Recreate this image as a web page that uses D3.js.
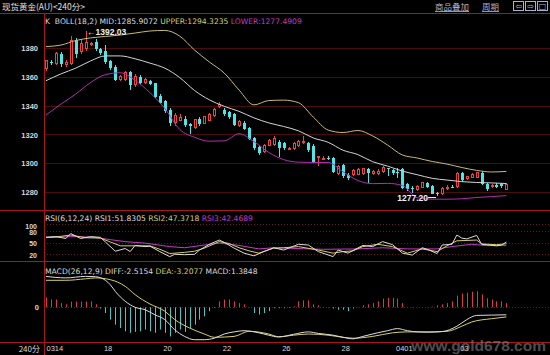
<!DOCTYPE html>
<html>
<head>
<meta charset="utf-8">
<script src="https://cdn.jsdelivr.net/npm/d3@7"></script>
<style>
  body { margin: 0; background: #000; }
  svg { display: block; font-family: "Liberation Sans", Arial, sans-serif; }
</style>
</head>
<body>
<div id="chart"></div>
<script>
// 240 minute gold bars, 0314 .. 0403
const opens = [1366,1370.5,1369,1376,1368.5,1369,1385.5,1377.5,1380,1382.5,
  1384.4,1379,1378,1371,1367,1358,1358.3,1363,1354.5,1360,
  1356,1357,1355.5,1347,1343.4,1337,1328,1330,1331,1327,
  1325,1330.5,1327.7,1329.5,1333,1339.5,1337,1335.8,1334,1326.5,
  1328,1324.2,1317.3,1311.5,1308,1312.6,1313,1315,1313.8,1310,
  1310.3,1312,1315,1314,1312,1304,1303,1303.6,1303.4,1293,
  1298.8,1292,1292,1292.5,1293,1296,1293,1293,1294,1296.5,
  1295.5,1294,1295.8,1285.6,1283,1282,1283.3,1286.5,1284.2,1279.2,
  1279,1282.3,1283.5,1283.7,1293.4,1289.5,1290,1290,1293.4,1285.6,
  1283.5,1285,1285.5,1282];
const highs = [1372,1372,1377,1377,1372,1388,1387,1386,1392.03,1384.5,
  1386,1380,1382,1372,1368,1361,1364,1364,1362,1361,
  1359,1358,1356,1348,1344,1338,1335,1334,1333,1328,
  1331,1332,1333,1335,1338,1342.7,1338,1336.5,1335,1330,
  1329,1325,1318,1312,1313.5,1317,1319,1316,1315,1311,
  1315,1316,1319,1315,1313,1305,1305,1305,1304,1299,
  1299.5,1293,1296,1296.5,1297,1297,1295,1296,1298,1297,
  1296,1296.5,1296.5,1286,1284,1285,1287,1287,1285,1280,
  1283.5,1285,1285,1294,1294,1291,1293,1294,1294.5,1286,
  1285.5,1286,1286.5,1286];
const lows = [1364,1368,1368,1367,1367,1368,1373,1376,1378,1381.5,
  1378,1375,1369,1365,1357,1357,1357,1351,1353,1355,
  1355,1354,1345,1341,1335,1326,1326,1329,1325,1320,
  1324,1326,1327,1329,1332,1338,1333,1331,1325.5,1325,
  1323,1316,1309,1306,1307,1312,1312,1304.5,1309,1309.5,
  1309.5,1311.5,1313,1308,1300,1298,1302,1302,1293,1292,
  1290,1288.5,1291,1292,1292,1286,1292,1292,1293,1291,
  1292,1290,1282,1281,1279,1281,1283,1283,1278.5,1277.2,
  1278,1281.5,1282.5,1283,1287,1288.5,1289.5,1289.5,1285,1281,
  1282.5,1283,1283,1281.5];
const closes = [1371,1370,1376,1369,1370,1385.5,1376,1383,1384,1383,
  1379,1376.7,1370.5,1366,1358,1360,1363,1354.5,1360.5,1356,
  1358,1355,1346,1342,1336,1328,1333,1332,1326.5,1326,
  1330.5,1327,1332.3,1334,1337,1340.5,1334,1332.3,1326.5,1329,
  1323.5,1316.6,1310.3,1307,1312.6,1316,1317,1310.3,1310.3,1310.5,
  1313.8,1315,1315.3,1309,1301,1304.5,1303.4,1303.4,1294,1298,
  1291,1289.5,1295,1295.7,1296.3,1293,1294,1294.5,1297,1296.2,
  1293,1293.8,1283,1282,1282.7,1283.5,1286.5,1283.5,1278.8,1278.6,
  1282.6,1282.8,1283.3,1293,1288.3,1290.6,1292,1293.4,1285.6,1282,
  1284.3,1283.5,1284,1285.5];

// BOLL(18,2), read every 3 bars
const bollBars = [0,3,6,9,12,15,18,21,24,27,30,33,36,39,42,45,48,51,54,57,60,63,66,69,72,75,78,81,84,87,90,93];
const bollUpper = [1381,1382,1385.2,1387,1388,1389,1390.4,1391.8,1392.2,1388.3,1378.6,1370.3,1362.6,1350.8,1340.5,1343.5,1343.8,1342,1332,1323,1321.3,1322.7,1318.9,1312.6,1305.7,1303.6,1301.2,1299.4,1297,1295,1293.9,1294.3];
const bollMid = [1357.3,1362,1366,1371,1374.5,1374.5,1372.5,1369.5,1366,1359.5,1350.5,1344,1339.5,1336,1331.5,1328,1325.5,1322.5,1317.5,1314.5,1309,1306,1301,1298,1294.5,1292,1289.5,1288.3,1287.2,1286.6,1286.3,1285.9];
const bollLower = [1333.5,1341,1348,1356,1361.5,1362.8,1357.5,1349,1338,1323.5,1318,1315.3,1315.5,1320.5,1315,1307.5,1302.5,1300.7,1300.5,1300.5,1294,1288,1285.8,1286,1284.5,1276,1275,1275,1275.3,1276.2,1276.8,1277.5];

// RSI(6,12,24) as [bar, value]
const rsi1 = [[0,64],[2,66],[4,61],[5,74],[7,61],[9,66],[11,64],[12,52],[14,28],[16,35],[17,27],[18,43],[20,40],[21,41],[23,27],[25,14],[26,20],[28,19],[30,20],[31,31],[33,46],[35,57],[36,51],[38,36],[40,23],[42,16],[44,27],[46,37],[48,31],[51,46],[53,44],[55,27],[58,14],[59,31],[61,23],[64,43],[66,40],[68,53],[70,45],[72,23],[74,18],[76,37],[77,33],[79,22],[80,44],[82,46],[83,70],[84,62],[85,60],[87,69],[88,46],[91,42],[92,44],[93,51.8]];
const rsi2 = [[0,64],[2,65],[5,70],[8,63],[11,62],[13,52],[15,42],[18,42],[21,42],[23,33],[25,22],[28,25],[30,28],[32,36],[35,53],[37,48],[39,37],[41,29],[43,23],[46,36],[48,37],[51,40],[55,31],[58,23],[60,27],[62,29],[64,40],[67,46],[70,40],[73,23],[76,34],[79,27],[81,42],[83,55],[87,57],[88,47],[91,45],[93,47.4]];
const rsi3 = [[0,64],[6,66],[10,64],[13,58],[16,53],[20,49],[25,40],[28,37],[32,44],[35,49],[39,43],[43,34],[46,37],[52,34.5],[56,33],[63,34],[68,37],[73,34],[79,34],[82,40],[86,46],[89,42.6],[93,42.5]];

// MACD(26,12,9)
const diffLine = [[0,10.3],[4,9.8],[8,10.3],[10,10.2],[12,9.0],[13,7.5],[14,5.3],[16,2],[18,0],[20,-0.8],[22,-2.5],[24,-4.1],[26,-7.5],[28,-9.7],[30,-10.8],[32,-10.8],[34,-10.3],[36,-8.9],[38,-8.2],[40,-7.8],[43,-8.5],[45,-9.3],[47,-9.9],[50,-9.0],[53,-8.2],[55,-8.7],[58,-9.3],[60,-10],[62,-10.5],[64,-9.7],[67,-8.5],[69,-7.8],[71,-7.1],[73,-7.8],[75,-8.2],[77,-8.3],[80,-8.1],[83,-6.3],[85,-4.1],[87,-2.7],[90,-2.6],[93,-2.5]];
const deaLine = [[0,9.0],[4,9.0],[8,9.5],[10,9.8],[13,9.2],[16,7],[18,4.2],[21,1.1],[24,-1.3],[26,-4.1],[29,-6.9],[32,-8.9],[34,-10],[38,-9.7],[41,-8.0],[45,-8.9],[47,-9.8],[50,-9.3],[53,-8.9],[57,-9.3],[60,-10],[62,-10.3],[66,-9.7],[70,-8.5],[73,-8.2],[77,-8.2],[81,-8],[84,-6.3],[86,-4.9],[90,-3.8],[93,-3.2]];
const macdHist = [3.3,2.6,2.6,1.4,1.0,1.9,1.9,1.9,1.9,2.0,
  1.0,-0.4,-1.9,-4.1,-5.8,-6.9,-8.0,-8.5,-8.2,-8.0,
  -7.4,-8.0,-8.5,-7.4,-8.5,-9.7,-8.5,-7.4,-8.2,-6.9,
  -5.8,-4.1,-3.0,-1.3,-0.2,2.0,2.6,2.6,2.0,1.4,
  1.0,-0.1,-1.9,-2.4,-1.9,-1.3,-0.3,-0.3,-0.3,-0.2,
  0.3,2.0,2.3,2.3,1.0,0.7,0.1,-0.1,-0.4,-0.8,
  -0.8,-1.3,-0.4,0.1,0.7,1.0,1.4,2.0,2.9,3.1,
  3.1,2.9,1.4,0.1,0.1,0.05,0.1,0.1,0.2,0.7,
  1.0,1.4,2.0,3.9,4.6,4.9,5.2,5.4,4.3,3.0,
  2.6,2.0,2.0,1.38];

const priceTicks = [1380,1360,1340,1320,1300,1280];
const rsiTicks = [100,80,50,20];
const xLabels = ["0314","18","20","22","26","28","0401","03"];
const xLabelBars = [0,12,24,36,48,60,71,84];

const w = 550, h = 355;
const red = "#a81818", grid = "#4a0c0c";
const upCol = "#ec4444", downCol = "#4ee6e6";
const white = "#dcdcdc", yellow = "#d8d064", magenta = "#c43cc4";

const svg = d3.select("#chart").append("svg")
  .attr("width", w).attr("height", h);
svg.append("rect").attr("width", w).attr("height", h).attr("fill", "#000");

// scales
const x = d3.scaleLinear().domain([0, 93]).range([46, 506.4]);
const cx = i => Math.round(x(i));
const yK = d3.scaleLinear().domain([1280, 1380]).range([192, 48]);
const yR = d3.scaleLinear().domain([0, 100]).range([262, 223.5]);
const yM = d3.scaleLinear().domain([-10, 10]).range([337.3, 277.3]);

// grid lines
svg.append("g").selectAll("line").data(priceTicks).enter().append("line")
  .attr("x1", 44).attr("x2", w)
  .attr("y1", d => Math.round(yK(d)) + 0.5).attr("y2", d => Math.round(yK(d)) + 0.5)
  .attr("stroke", grid);
svg.append("g").selectAll("line").data(rsiTicks).enter().append("line")
  .attr("x1", 44).attr("x2", w)
  .attr("y1", d => Math.round(yR(d)) + 0.5).attr("y2", d => Math.round(yR(d)) + 0.5)
  .attr("stroke", "#6a1818").attr("stroke-dasharray", "1,2");
svg.append("line")
  .attr("x1", 44).attr("x2", w)
  .attr("y1", Math.round(yM(0)) + 0.5).attr("y2", Math.round(yM(0)) + 0.5)
  .attr("stroke", "#6a1818").attr("stroke-dasharray", "1,2");

// panel frame
[13, 210, 261, 342].forEach(yy => {
  svg.append("line").attr("x1", 0).attr("x2", w)
    .attr("y1", yy + 0.5).attr("y2", yy + 0.5).attr("stroke", red);
});
svg.append("line").attr("x1", 44.5).attr("x2", 44.5)
  .attr("y1", 13).attr("y2", h).attr("stroke", red);

// axes
const yAxis = d3.axisLeft(yK).tickValues(priceTicks).tickFormat(d3.format("d"))
  .tickSize(0).tickPadding(0);
const gy = svg.append("g").attr("transform", "translate(38,0)").call(yAxis);
gy.select(".domain").remove();
gy.selectAll("text").attr("fill", "#d8d8d8").style("font-size", "7.5px")
  .style("font-weight", "bold").attr("dy", "0.35em");

const rAxis = d3.axisLeft(yR).tickValues(rsiTicks).tickFormat(d3.format("d"))
  .tickSize(0).tickPadding(0);
const gr = svg.append("g").attr("transform", "translate(37,0)").call(rAxis);
gr.select(".domain").remove();
gr.selectAll("text").attr("fill", "#d8d8d8").style("font-size", "7px")
  .style("font-weight", "bold").attr("dy", "0.45em");
gr.selectAll(".tick").filter(d => d === 100).select("text").attr("dy", "0.75em");

const mAxis = d3.axisLeft(yM).tickValues([0]).tickSize(0).tickPadding(0);
const gm = svg.append("g").attr("transform", "translate(39,0)").call(mAxis);
gm.select(".domain").remove();
gm.selectAll("text").attr("fill", "#d8d8d8").style("font-size", "7.5px")
  .style("font-weight", "bold").attr("dy", "0.35em");

const xAxis = d3.axisBottom(x).tickValues(xLabelBars)
  .tickFormat((d, i) => xLabels[i]).tickSize(0).tickPadding(0);
const gx = svg.append("g").attr("transform", "translate(0,344)").call(xAxis);
gx.select(".domain").remove();
gx.selectAll("text").attr("fill", "#d8d8d8").style("font-size", "7.5px")
  .attr("text-anchor", "start").attr("dx", (d, i) => i === 0 ? 0 : -2).attr("dy", "0.9em");
svg.append("text").attr("x", 40).attr("y", 351.5).attr("text-anchor", "end")
  .attr("fill", "#d8d8d8").style("font-size", "8px")
  .style("font-family", "'Noto Sans CJK SC', sans-serif").text("240分");

// candles
const bars = d3.range(opens.length);
const cg = svg.append("g").attr("shape-rendering", "crispEdges");
cg.selectAll("line").data(bars).enter().append("line")
  .attr("x1", i => cx(i) + 0.5).attr("x2", i => cx(i) + 0.5)
  .attr("y1", i => yK(highs[i])).attr("y2", i => yK(lows[i]))
  .attr("stroke", i => closes[i] > opens[i] ? upCol : downCol);
cg.selectAll("rect").data(bars).enter().append("rect")
  .attr("x", i => closes[i] > opens[i] ? cx(i) - 0.5 : cx(i) - 1)
  .attr("width", i => closes[i] > opens[i] ? 2 : 3)
  .attr("y", i => yK(Math.max(opens[i], closes[i])))
  .attr("height", i => Math.max(1, Math.abs(yK(opens[i]) - yK(closes[i]))))
  .attr("fill", i => closes[i] > opens[i] ? "#000" : downCol)
  .attr("stroke", i => closes[i] > opens[i] ? upCol : "none");

// BOLL lines
const bollLine = d3.line().x((d, i) => x(bollBars[i])).y(d => yK(d)).curve(d3.curveMonotoneX);
[[bollUpper, "#c8bc6c"], [bollMid, "#d4d4d4"], [bollLower, "#b030b0"]].forEach(([s, c]) => {
  svg.append("path").attr("d", bollLine(s)).attr("fill", "none")
    .attr("stroke", c).attr("stroke-width", 1);
});

// RSI lines
const rLine = d3.line().x(d => x(d[0])).y(d => yR(d[1]));
[[rsi3, magenta], [rsi2, yellow], [rsi1, white]].forEach(([s, c]) => {
  svg.append("path").attr("d", rLine(s)).attr("fill", "none")
    .attr("stroke", c).attr("stroke-width", 1);
});

// MACD histogram and lines
svg.append("g").selectAll("line").data(macdHist).enter().append("line")
  .attr("x1", (d, i) => cx(i) + 0.5).attr("x2", (d, i) => cx(i) + 0.5)
  .attr("y1", yM(0)).attr("y2", d => yM(d))
  .attr("stroke", d => d >= 0 ? "#d83c3c" : "#46c8c8");
const mLine = d3.line().x(d => x(d[0])).y(d => yM(d[1])).curve(d3.curveMonotoneX);
svg.append("path").attr("d", mLine(deaLine)).attr("fill", "none").attr("stroke", yellow);
svg.append("path").attr("d", mLine(diffLine)).attr("fill", "none").attr("stroke", white);

// high / low markers
const hiIdx = highs.indexOf(d3.max(highs));
const loIdx = lows.indexOf(d3.min(lows));
svg.append("text").attr("x", cx(hiIdx) + 1).attr("y", yK(highs[hiIdx]) + 4)
  .attr("fill", "#f0f0f0").style("font-size", "8.5px").style("font-weight", "bold")
  .text("\u2190" + highs[hiIdx].toFixed(2));
svg.append("line").attr("x1", cx(loIdx) - 9).attr("x2", cx(loIdx) - 1)
  .attr("y1", yK(lows[loIdx]) + 1.5).attr("y2", yK(lows[loIdx]) + 1.5)
  .attr("stroke", "#f0f0f0");
svg.append("text").attr("x", cx(loIdx) - 9).attr("y", yK(lows[loIdx]) + 4.5)
  .attr("text-anchor", "end")
  .attr("fill", "#f0f0f0").style("font-size", "8.5px").style("font-weight", "bold")
  .text(lows[loIdx].toFixed(2));

// legends: one text per row, coloured tspans
function legend(items, yy) {
  const t = svg.append("text").attr("x", 45).attr("y", yy)
    .attr("xml:space", "preserve")
    .style("font-family", "'DejaVu Sans', sans-serif").style("font-size", "7.6px");
  items.forEach(([s, c]) => t.append("tspan").attr("fill", c).text(s));
}
legend([["K  BOLL(18,2) MID:1285.9072 ", white],
  ["UPPER:1294.3235 ", yellow], ["LOWER:1277.4909", magenta]], 23.5);
legend([["RSI(6,12,24) RSI1:51.8305 ", white],
  ["RSI2:47.3718 ", yellow], ["RSI3:42.4689", magenta]], 221);
legend([["MACD(26,12,9) DIFF:-2.5154 ", white],
  ["DEA:-3.2077 ", yellow], ["MACD:1.3848", white]], 273.5);

// header
svg.append("text").attr("x", 2).attr("y", 10).attr("fill", "#e0e0e0")
  .style("font-family", "'Noto Sans CJK SC', sans-serif").style("font-size", "8.5px")
  .text("现货黄金(AU)<240分>");
[["商品叠加", 435], ["周期", 482]].forEach(([t, xx]) => {
  svg.append("text").attr("x", xx).attr("y", 10).attr("fill", "#a8b0d8")
    .style("font-family", "'Noto Sans CJK SC', sans-serif").style("font-size", "8.5px")
    .style("text-decoration", "underline").text(t);
});
["\u21e6", "\u21e8", "\u25a1"].forEach((t, i) => {
  svg.append("rect").attr("x", 513.5 + i * 12).attr("y", 1.5).attr("width", 10).attr("height", 9)
    .attr("fill", "none").attr("stroke", "#a8b0d8");
  svg.append("text").attr("x", 518.5 + i * 12).attr("y", 9).attr("text-anchor", "middle")
    .attr("fill", "#a8b0d8").style("font-family", "'DejaVu Sans', sans-serif")
    .style("font-size", "8px").text(t);
});

// watermark
svg.append("text").attr("x", 546).attr("y", 351).attr("text-anchor", "end")
  .attr("fill", "#9a9a9a").attr("opacity", 0.5)
  .style("font-size", "15.5px").style("font-weight", "bold").text("www.gold678.com");
</script>
</body>
</html>
